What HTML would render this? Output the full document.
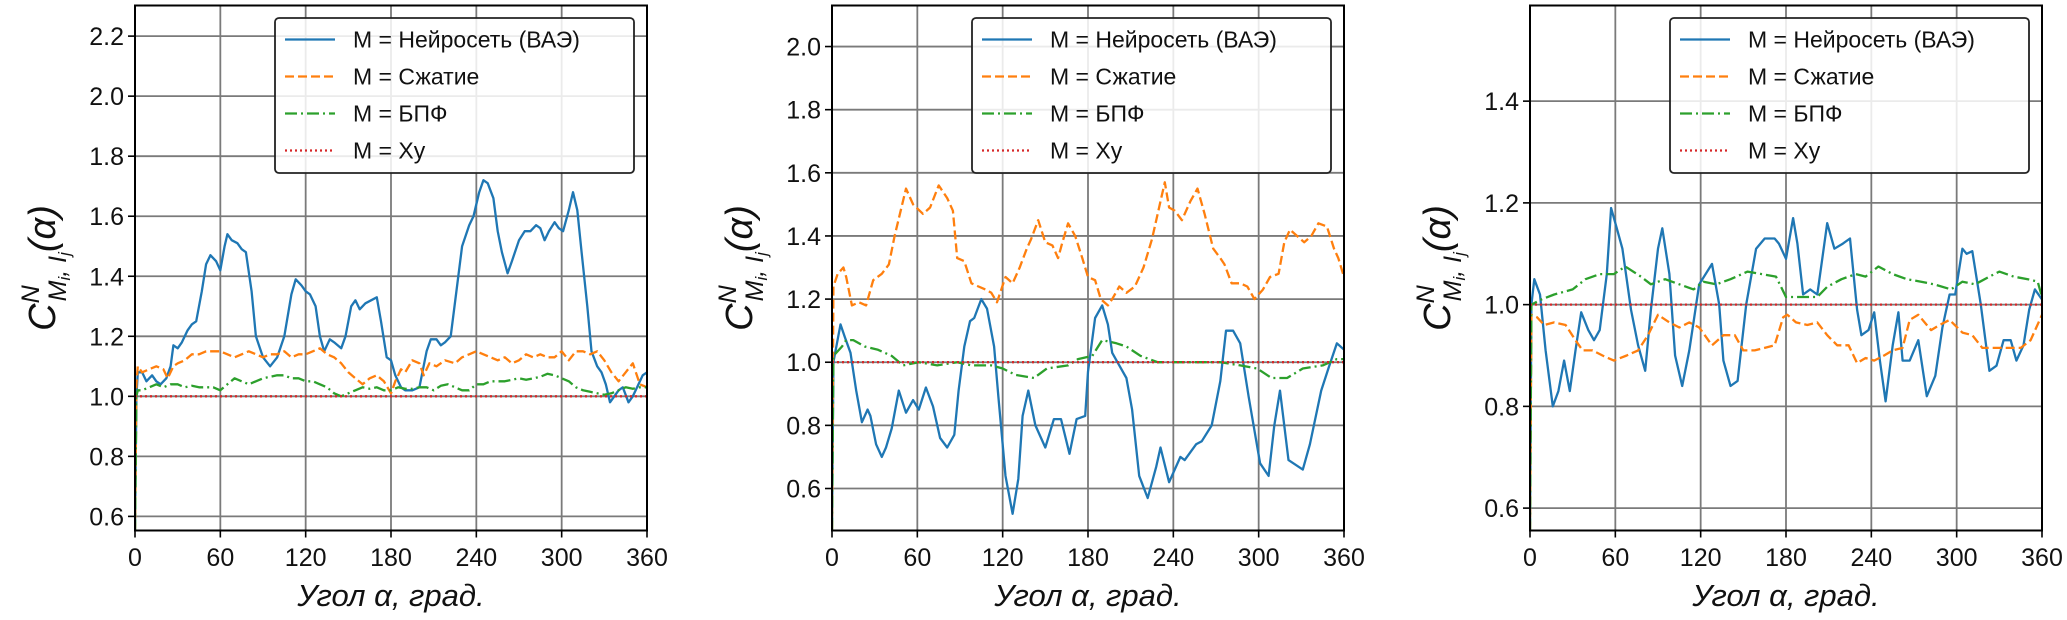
<!DOCTYPE html>
<html><head><meta charset="utf-8">
<style>
html,body{margin:0;padding:0;background:#fff;}
svg{display:block;}
text{font-family:"Liberation Sans","DejaVu Sans",sans-serif;}
</style></head>
<body>
<svg id="chart" width="2067" height="620" viewBox="0 0 2067 620" xmlns="http://www.w3.org/2000/svg"></svg>
<script>
const xTicks = [0, 60, 120, 180, 240, 300, 360];
const p1YTicks = [0.6, 0.8, 1.0, 1.2, 1.4, 1.6, 1.8, 2.0, 2.2];
const p2YTicks = [0.6, 0.8, 1.0, 1.2, 1.4, 1.6, 1.8, 2.0];
const p3YTicks = [0.6, 0.8, 1.0, 1.2, 1.4];
const p1YRange = [0.553, 2.302];
const p2YRange = [0.467, 2.13];
const p3YRange = [0.556, 1.588];
const legendLabels = ["M = Нейросеть (ВАЭ)", "M = Сжатие", "M = БПФ", "M = Xy"];

const p1Blue = [[0,0.55],[1,1.0],[2,1.08],[5,1.08],[8,1.05],[12,1.07],[15,1.05],[18,1.04],[22,1.06],[25,1.1],[27,1.17],[30,1.16],[33,1.18],[37,1.22],[40,1.24],[43,1.25],[47,1.35],[50,1.44],[53,1.47],[57,1.45],[60,1.42],[63,1.5],[65,1.54],[68,1.52],[72,1.51],[75,1.49],[78,1.48],[82,1.35],[85,1.2],[90,1.13],[95,1.1],[100,1.13],[105,1.2],[110,1.34],[113,1.39],[117,1.37],[120,1.35],[123,1.34],[127,1.3],[130,1.2],[133,1.15],[137,1.19],[140,1.18],[145,1.16],[148,1.2],[152,1.3],[155,1.32],[158,1.29],[162,1.31],[166,1.32],[170,1.33],[173,1.25],[177,1.13],[180,1.12],[183,1.07],[187,1.03],[190,1.02],[195,1.02],[200,1.03],[205,1.15],[208,1.19],[212,1.19],[215,1.17],[218,1.18],[222,1.2],[226,1.35],[230,1.5],[235,1.57],[238,1.6],[242,1.68],[245,1.72],[248,1.71],[252,1.66],[255,1.55],[258,1.48],[262,1.41],[265,1.45],[270,1.52],[274,1.55],[278,1.55],[282,1.57],[285,1.56],[288,1.52],[291,1.55],[295,1.58],[298,1.56],[301,1.55],[305,1.62],[308,1.68],[311,1.62],[314,1.48],[318,1.3],[321,1.15],[325,1.1],[328,1.08],[331,1.04],[334,0.98],[337,1.0],[340,1.02],[343,1.03],[347,0.98],[350,1.0],[354,1.04],[357,1.07],[360,1.08]];
const p1Orange = [[0,0.55],[1,1.04],[2,1.1],[5,1.08],[10,1.09],[15,1.1],[20,1.09],[23,1.06],[27,1.1],[30,1.11],[35,1.12],[40,1.14],[45,1.14],[50,1.15],[55,1.15],[60,1.15],[65,1.14],[70,1.13],[75,1.14],[80,1.15],[85,1.14],[90,1.13],[95,1.14],[100,1.14],[105,1.15],[110,1.13],[115,1.14],[120,1.14],[125,1.15],[130,1.16],[135,1.14],[140,1.13],[145,1.11],[150,1.08],[155,1.06],[160,1.04],[165,1.06],[170,1.07],[175,1.05],[180,1.01],[183,1.05],[187,1.09],[190,1.08],[195,1.12],[200,1.11],[203,1.07],[207,1.11],[212,1.1],[218,1.12],[225,1.11],[230,1.13],[235,1.14],[240,1.15],[245,1.14],[250,1.13],[255,1.12],[260,1.13],[265,1.11],[270,1.12],[275,1.14],[280,1.13],[285,1.14],[290,1.13],[295,1.13],[300,1.15],[305,1.12],[310,1.15],[315,1.15],[320,1.14],[325,1.15],[330,1.12],[335,1.08],[340,1.05],[345,1.08],[350,1.11],[355,1.04],[360,1.03]];
const p1Green = [[0,0.55],[1,1.0],[2,1.02],[5,1.02],[10,1.03],[15,1.04],[20,1.03],[25,1.04],[30,1.04],[35,1.03],[40,1.035],[45,1.03],[50,1.03],[55,1.03],[60,1.02],[65,1.04],[70,1.06],[75,1.05],[80,1.04],[85,1.05],[90,1.06],[95,1.065],[100,1.07],[105,1.07],[110,1.06],[115,1.06],[120,1.05],[125,1.05],[130,1.04],[135,1.03],[140,1.01],[145,1.0],[150,1.01],[155,1.02],[160,1.03],[165,1.025],[170,1.03],[175,1.02],[180,1.02],[185,1.03],[190,1.025],[195,1.025],[200,1.03],[205,1.03],[210,1.02],[215,1.035],[220,1.04],[225,1.03],[230,1.02],[235,1.02],[240,1.04],[245,1.04],[250,1.05],[255,1.05],[260,1.05],[265,1.055],[270,1.06],[275,1.055],[280,1.06],[285,1.065],[290,1.075],[295,1.07],[300,1.06],[305,1.05],[310,1.03],[315,1.02],[320,1.015],[325,1.01],[330,1.005],[335,1.01],[340,1.02],[345,1.03],[350,1.025],[355,1.03],[360,1.03]];
const p1Red = [[0,1.0],[360,1.0]];

const p2Blue = [[0,0.47],[1,1.0],[6,1.12],[9,1.08],[13,1.03],[17,0.91],[21,0.81],[25,0.85],[27,0.83],[31,0.74],[35,0.70],[38,0.73],[42,0.79],[47,0.91],[52,0.84],[57,0.88],[61,0.85],[66,0.92],[71,0.86],[76,0.76],[81,0.73],[86,0.77],[89,0.91],[93,1.05],[97,1.13],[100,1.14],[105,1.2],[109,1.17],[114,1.05],[117,0.89],[122,0.64],[127,0.52],[131,0.63],[134,0.83],[138,0.91],[143,0.80],[150,0.73],[156,0.82],[161,0.82],[167,0.71],[172,0.82],[178,0.83],[180,0.97],[185,1.14],[190,1.18],[194,1.12],[197,1.03],[202,0.99],[207,0.95],[211,0.85],[216,0.64],[222,0.57],[228,0.67],[231,0.73],[237,0.62],[245,0.70],[248,0.69],[256,0.74],[260,0.75],[267,0.80],[273,0.94],[277,1.10],[282,1.10],[287,1.06],[293,0.89],[301,0.68],[307,0.64],[311,0.80],[315,0.91],[321,0.69],[331,0.66],[336,0.74],[344,0.91],[349,0.98],[355,1.06],[360,1.04]];
const p2Orange = [[0,0.47],[1,1.24],[4,1.28],[8,1.30],[10,1.27],[14,1.18],[19,1.19],[24,1.18],[29,1.26],[35,1.28],[40,1.31],[44,1.40],[52,1.55],[57,1.50],[64,1.47],[69,1.49],[75,1.56],[81,1.52],[85,1.48],[88,1.33],[93,1.32],[98,1.25],[103,1.24],[108,1.23],[112,1.22],[116,1.19],[122,1.27],[127,1.25],[132,1.30],[137,1.36],[140,1.39],[145,1.45],[150,1.38],[155,1.37],[159,1.33],[162,1.38],[166,1.44],[171,1.40],[176,1.33],[180,1.27],[185,1.26],[189,1.20],[194,1.18],[197,1.20],[202,1.24],[207,1.22],[213,1.24],[219,1.30],[225,1.39],[230,1.49],[234,1.57],[237,1.49],[241,1.48],[246,1.45],[252,1.51],[257,1.55],[262,1.47],[268,1.36],[273,1.33],[276,1.31],[281,1.25],[287,1.25],[292,1.24],[297,1.20],[303,1.23],[308,1.27],[314,1.28],[318,1.38],[322,1.42],[327,1.40],[332,1.38],[337,1.40],[342,1.44],[348,1.43],[353,1.36],[356,1.33],[360,1.27]];
const p2Green = [[0,0.47],[1,1.02],[7,1.05],[10,1.07],[15,1.07],[23,1.05],[32,1.04],[42,1.02],[50,0.99],[61,1.0],[74,0.99],[88,1.0],[98,0.99],[112,0.99],[120,0.98],[129,0.96],[142,0.95],[151,0.98],[166,0.99],[173,1.01],[183,1.02],[190,1.07],[200,1.06],[207,1.05],[217,1.02],[229,1.0],[243,1.0],[258,1.0],[273,1.0],[287,0.99],[299,0.98],[309,0.95],[320,0.95],[331,0.98],[345,0.99],[355,1.01],[360,1.01]];
const p2Red = [[0,1.0],[360,1.0]];

const p3Blue = [[0,0.556],[1,1.0],[3,1.05],[7,1.02],[11,0.91],[16,0.80],[20,0.83],[24,0.89],[28,0.83],[32,0.91],[36,0.985],[41,0.95],[45,0.93],[49,0.95],[54,1.06],[57,1.19],[61,1.15],[65,1.11],[71,0.99],[76,0.92],[81,0.87],[85,0.99],[90,1.11],[93,1.15],[98,1.06],[102,0.90],[107,0.84],[112,0.91],[119,1.04],[128,1.08],[133,1.0],[136,0.89],[141,0.84],[146,0.85],[152,1.0],[159,1.11],[165,1.13],[172,1.13],[175,1.12],[180,1.09],[185,1.17],[188,1.12],[192,1.02],[197,1.03],[202,1.02],[209,1.16],[214,1.11],[220,1.12],[225,1.13],[230,0.99],[233,0.94],[238,0.95],[242,0.985],[246,0.89],[250,0.81],[255,0.92],[259,0.985],[262,0.89],[267,0.89],[273,0.93],[279,0.82],[285,0.86],[290,0.955],[295,1.02],[299,1.02],[304,1.11],[307,1.10],[311,1.105],[317,1.0],[323,0.87],[328,0.88],[333,0.93],[338,0.93],[342,0.89],[347,0.92],[351,0.99],[355,1.03],[360,1.01]];
const p3Orange = [[0,0.556],[1,0.98],[5,0.975],[10,0.96],[17,0.965],[25,0.96],[32,0.93],[37,0.91],[44,0.91],[51,0.90],[59,0.89],[68,0.90],[76,0.91],[83,0.94],[90,0.98],[98,0.965],[105,0.955],[112,0.965],[119,0.955],[128,0.92],[136,0.94],[144,0.94],[150,0.91],[158,0.91],[165,0.915],[172,0.92],[178,0.975],[181,0.98],[187,0.965],[195,0.96],[202,0.965],[209,0.94],[216,0.92],[224,0.92],[230,0.885],[236,0.895],[242,0.89],[249,0.90],[255,0.91],[262,0.915],[267,0.97],[273,0.98],[282,0.95],[288,0.96],[295,0.97],[304,0.945],[311,0.94],[318,0.915],[327,0.915],[335,0.915],[345,0.915],[352,0.93],[356,0.955],[360,0.98]];
const p3Green = [[0,0.556],[1,1.0],[8,1.01],[17,1.02],[30,1.03],[39,1.05],[49,1.06],[59,1.06],[67,1.075],[78,1.055],[85,1.04],[95,1.05],[105,1.04],[115,1.03],[122,1.045],[131,1.04],[141,1.05],[153,1.065],[163,1.06],[173,1.055],[180,1.015],[190,1.015],[202,1.015],[209,1.035],[219,1.05],[229,1.06],[236,1.055],[245,1.075],[255,1.06],[265,1.05],[275,1.045],[284,1.04],[296,1.03],[304,1.045],[313,1.04],[323,1.055],[330,1.065],[340,1.055],[350,1.05],[357,1.045],[360,1.015]];
const p3Red = [[0,1.0],[360,1.0]];

const NS = "http://www.w3.org/2000/svg";
const svg = document.getElementById("chart");
function mk(tag, attrs, parent) {
  const e = document.createElementNS(NS, tag);
  for (const k in attrs) e.setAttribute(k, attrs[k]);
  (parent || svg).appendChild(e);
  return e;
}
const colors = ["#1f77b4", "#ff7f0e", "#2ca02c", "#d62728"];
const dashes = ["", "9,4", "12,4,2,4", "2,3"];
const seriesNames = ["vae", "compression", "fft", "xy"];

const panels = [
  {left: 135, series: [p1Blue, p1Orange, p1Green, p1Red], yTicks: p1YTicks, yRange: p1YRange},
  {left: 832, series: [p2Blue, p2Orange, p2Green, p2Red], yTicks: p2YTicks, yRange: p2YRange},
  {left: 1530, series: [p3Blue, p3Orange, p3Green, p3Red], yTicks: p3YTicks, yRange: p3YRange}
];
const W = 512, TOP = 5.5, BOT = 530.5;

panels.forEach((p, pi) => {
  const g = mk("g", {});
  
  
  const xS = d => p.left + d / 360 * W;
  const yS = v => BOT - (v - p.yRange[0]) / (p.yRange[1] - p.yRange[0]) * (BOT - TOP);
  const clipId = "clip" + pi;
  const cp = mk("clipPath", {id: clipId}, g);
  mk("rect", {x: p.left, y: TOP, width: W, height: BOT - TOP}, cp);
  const grid = mk("g", {}, g);
  
  
  xTicks.forEach(t => {
    mk("line", {x1: xS(t), x2: xS(t), y1: TOP, y2: BOT, stroke: "#7a7a7a", "stroke-width": 1.8}, grid);
  });
  p.yTicks.forEach(t => {
    mk("line", {x1: p.left, x2: p.left + W, y1: yS(t), y2: yS(t), stroke: "#7a7a7a", "stroke-width": 1.8}, grid);
  });
  p.series.forEach((s, si) => {
    const d = s.map((pt, i) => (i ? "L" : "M") + xS(pt[0]).toFixed(1) + "," + yS(pt[1]).toFixed(1)).join(" ");
    const path = mk("path", {d: d, fill: "none", stroke: colors[si], "stroke-width": 2.3, "stroke-linejoin": "round", "clip-path": "url(#" + clipId + ")"}, g);
    if (dashes[si]) path.setAttribute("stroke-dasharray", dashes[si]);
    
    
  });
  const frame = mk("rect", {x: p.left, y: TOP, width: W, height: BOT - TOP, fill: "none", stroke: "#000", "stroke-width": 2}, g);
  
  
  xTicks.forEach(t => {
    mk("line", {x1: xS(t), x2: xS(t), y1: BOT, y2: BOT + 7, stroke: "#000", "stroke-width": 1.6}, g);
    const tx = mk("text", {x: xS(t), y: 566, "font-size": 25, "text-anchor": "middle", fill: "#111"}, g);
    tx.textContent = t;
    
    
  });
  p.yTicks.forEach(t => {
    mk("line", {x1: p.left - 7, x2: p.left, y1: yS(t), y2: yS(t), stroke: "#000", "stroke-width": 1.6}, g);
    const tx = mk("text", {x: p.left - 11, y: yS(t) + 9, "font-size": 25, "text-anchor": "end", fill: "#111"}, g);
    tx.textContent = t.toFixed(1);
    
    
  });
  const xl = mk("text", {x: p.left + W / 2, y: 606, "font-size": 31, "font-style": "italic", "text-anchor": "middle", fill: "#111"}, g);
  xl.textContent = "Угол α, град.";
  
  
  const yl = mk("text", {transform: "translate(" + (p.left - 80) + ",268) rotate(-90)", "font-size": 38, "font-style": "italic", "text-anchor": "middle", fill: "#111"}, g);
  
  
  yl.innerHTML = '<tspan>C</tspan><tspan font-size="25" dy="-16">N</tspan><tspan font-size="25" dx="-16" dy="27">M</tspan><tspan font-size="17" dy="4">i</tspan><tspan font-size="25" dy="-4">, I</tspan><tspan font-size="17" dy="4">j</tspan><tspan dy="-15">(α)</tspan>';
  const lg = mk("g", {}, g);
  
  
  const lx = p.left + W - 372, ly = 18;
  mk("rect", {x: lx, y: ly, width: 359, height: 155, rx: 4, fill: "rgba(255,255,255,0.85)", stroke: "#222", "stroke-width": 1.8}, lg);
  legendLabels.forEach((lab, i) => {
    const yy = 39.5 + i * 37;
    const ln = mk("line", {x1: lx + 10, x2: lx + 60, y1: yy, y2: yy, stroke: colors[i], "stroke-width": 2.3}, lg);
    if (dashes[i]) ln.setAttribute("stroke-dasharray", dashes[i]);
    
    
    const tx = mk("text", {x: lx + 78, y: yy + 8, "font-size": 23, fill: "#111"}, lg);
    tx.textContent = lab;
    
    
  });
});
</script>
</body></html>
